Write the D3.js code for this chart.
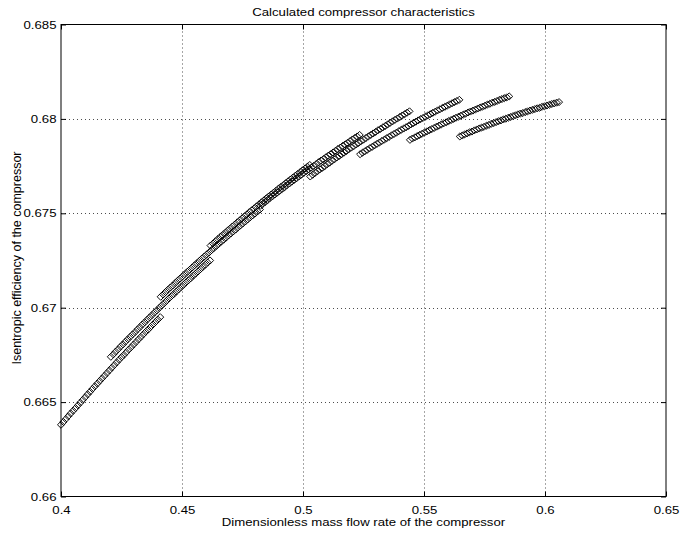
<!DOCTYPE html>
<html>
<head>
<meta charset="utf-8">
<script src="https://cdnjs.cloudflare.com/ajax/libs/d3/7.8.5/d3.min.js"></script>
<style>
  body { margin: 0; background: #fff; }
  text { font-family: "Liberation Sans", Arial, sans-serif; fill: #000; }
</style>
</head>
<body>
<script>
// compressor map: one run of diamonds per speed line

var xTicks = [0.4, 0.45, 0.5, 0.55, 0.6, 0.65];
var xTickLabels = ["0.4", "0.45", "0.5", "0.55", "0.6", "0.65"];
var yTicks = [0.66, 0.665, 0.67, 0.675, 0.68, 0.685];
var yTickLabels = ["0.66", "0.665", "0.67", "0.675", "0.68", "0.685"];

var flow1 = [0.400,0.401,0.402,0.403,0.404,0.405,0.406,0.407,0.408,0.409,0.410,0.411,0.412,0.413,0.414,0.415,0.416,0.417,0.418,0.419,0.420,0.421,0.422,0.423,0.424,0.425,0.426,0.427,0.428,0.429,0.430,0.431,0.432,0.433,0.434,0.435,0.436,0.437,0.438,0.439,0.440,0.441];
var eff1 = [0.66380,0.66395,0.66410,0.66425,0.66440,0.66454,0.66468,0.66483,0.66497,0.66512,0.66526,0.66541,0.66555,0.66570,0.66584,0.66598,0.66612,0.66626,0.66640,0.66654,0.66668,0.66682,0.66696,0.66710,0.66724,0.66738,0.66750,0.66764,0.66778,0.66791,0.66805,0.66818,0.66832,0.66845,0.66859,0.66872,0.66884,0.66898,0.66911,0.66924,0.66937,0.66950];

var flow2 = [0.4206,0.4216,0.4226,0.4236,0.4246,0.4256,0.4266,0.4276,0.4286,0.4296,0.4306,0.4316,0.4326,0.4336,0.4346,0.4356,0.4366,0.4376,0.4386,0.4396,0.4406,0.4416,0.4426,0.4436,0.4446,0.4456,0.4466,0.4476,0.4486,0.4496,0.4506,0.4516,0.4526,0.4536,0.4546,0.4556,0.4566,0.4576,0.4586,0.4596,0.4606,0.4616];
var eff2 = [0.66740,0.66753,0.66767,0.66780,0.66794,0.66806,0.66820,0.66833,0.66846,0.66859,0.66871,0.66885,0.66897,0.66911,0.66923,0.66936,0.66949,0.66961,0.66974,0.66986,0.66999,0.67011,0.67024,0.67036,0.67049,0.67061,0.67072,0.67085,0.67097,0.67109,0.67121,0.67133,0.67145,0.67156,0.67169,0.67180,0.67192,0.67204,0.67216,0.67227,0.67239,0.67250];

var flow3 = [0.4412,0.4422,0.4432,0.4442,0.4452,0.4462,0.4472,0.4482,0.4492,0.4502,0.4512,0.4522,0.4532,0.4542,0.4552,0.4562,0.4572,0.4582,0.4592,0.4602,0.4612,0.4622,0.4632,0.4642,0.4652,0.4662,0.4672,0.4682,0.4692,0.4702,0.4712,0.4722,0.4732,0.4742,0.4752,0.4762,0.4772,0.4782,0.4792,0.4802,0.4812,0.4822];
var eff3 = [0.67058,0.67070,0.67083,0.67095,0.67107,0.67118,0.67131,0.67143,0.67154,0.67166,0.67178,0.67190,0.67201,0.67213,0.67225,0.67236,0.67248,0.67260,0.67271,0.67282,0.67293,0.67305,0.67316,0.67327,0.67338,0.67350,0.67360,0.67371,0.67383,0.67393,0.67404,0.67414,0.67426,0.67436,0.67447,0.67457,0.67468,0.67479,0.67489,0.67499,0.67510,0.67520];

var flow4 = [0.4618,0.4628,0.4638,0.4648,0.4658,0.4668,0.4678,0.4688,0.4698,0.4708,0.4718,0.4728,0.4738,0.4748,0.4758,0.4768,0.4778,0.4788,0.4798,0.4808,0.4818,0.4828,0.4838,0.4848,0.4858,0.4868,0.4878,0.4888,0.4898,0.4908,0.4918,0.4928,0.4938,0.4948,0.4958,0.4968,0.4978,0.4988,0.4998,0.5008,0.5018,0.5028];
var eff4 = [0.67329,0.67340,0.67352,0.67363,0.67375,0.67385,0.67396,0.67408,0.67418,0.67430,0.67440,0.67452,0.67462,0.67473,0.67484,0.67494,0.67506,0.67516,0.67526,0.67537,0.67547,0.67558,0.67568,0.67579,0.67589,0.67599,0.67609,0.67619,0.67630,0.67639,0.67649,0.67659,0.67669,0.67679,0.67689,0.67699,0.67708,0.67718,0.67728,0.67737,0.67747,0.67756];

var flow5 = [0.4824,0.4834,0.4844,0.4854,0.4864,0.4874,0.4884,0.4894,0.4904,0.4914,0.4924,0.4934,0.4944,0.4954,0.4964,0.4974,0.4984,0.4994,0.5004,0.5014,0.5024,0.5034,0.5044,0.5054,0.5064,0.5074,0.5084,0.5094,0.5104,0.5114,0.5124,0.5134,0.5144,0.5154,0.5164,0.5174,0.5184,0.5194,0.5204,0.5214,0.5224,0.5234];
var eff5 = [0.67540,0.67550,0.67560,0.67570,0.67581,0.67590,0.67600,0.67610,0.67619,0.67629,0.67638,0.67649,0.67658,0.67668,0.67677,0.67686,0.67696,0.67705,0.67715,0.67724,0.67733,0.67742,0.67751,0.67760,0.67770,0.67779,0.67787,0.67796,0.67805,0.67813,0.67822,0.67831,0.67840,0.67848,0.67857,0.67865,0.67873,0.67882,0.67891,0.67899,0.67907,0.67915];

var flow6 = [0.5030,0.5040,0.5050,0.5060,0.5070,0.5080,0.5090,0.5100,0.5110,0.5120,0.5130,0.5140,0.5150,0.5160,0.5170,0.5180,0.5190,0.5200,0.5210,0.5220,0.5230,0.5240,0.5250,0.5260,0.5270,0.5280,0.5290,0.5300,0.5310,0.5320,0.5330,0.5340,0.5350,0.5360,0.5370,0.5380,0.5390,0.5400,0.5410,0.5420,0.5430,0.5440];
var eff6 = [0.67695,0.67704,0.67714,0.67723,0.67733,0.67741,0.67750,0.67760,0.67768,0.67778,0.67786,0.67796,0.67804,0.67813,0.67822,0.67830,0.67840,0.67848,0.67856,0.67865,0.67873,0.67882,0.67890,0.67899,0.67907,0.67915,0.67923,0.67931,0.67940,0.67947,0.67955,0.67963,0.67971,0.67979,0.67987,0.67995,0.68002,0.68010,0.68018,0.68025,0.68033,0.68040];

var flow7 = [0.5236,0.5246,0.5256,0.5266,0.5276,0.5286,0.5296,0.5306,0.5316,0.5326,0.5336,0.5346,0.5356,0.5366,0.5376,0.5386,0.5396,0.5406,0.5416,0.5426,0.5436,0.5446,0.5456,0.5466,0.5476,0.5486,0.5496,0.5506,0.5516,0.5526,0.5536,0.5546,0.5556,0.5566,0.5576,0.5586,0.5596,0.5606,0.5616,0.5626,0.5636,0.5646];
var eff7 = [0.67813,0.67821,0.67829,0.67837,0.67845,0.67852,0.67860,0.67868,0.67875,0.67883,0.67890,0.67898,0.67905,0.67913,0.67920,0.67927,0.67935,0.67942,0.67949,0.67956,0.67963,0.67971,0.67978,0.67985,0.67992,0.67999,0.68005,0.68012,0.68019,0.68025,0.68032,0.68038,0.68045,0.68051,0.68058,0.68064,0.68070,0.68077,0.68083,0.68089,0.68095,0.68101];

var flow8 = [0.5442,0.5452,0.5462,0.5472,0.5482,0.5492,0.5502,0.5512,0.5522,0.5532,0.5542,0.5552,0.5562,0.5572,0.5582,0.5592,0.5602,0.5612,0.5622,0.5632,0.5642,0.5652,0.5662,0.5672,0.5682,0.5692,0.5702,0.5712,0.5722,0.5732,0.5742,0.5752,0.5762,0.5772,0.5782,0.5792,0.5802,0.5812,0.5822,0.5832,0.5842,0.5852];
var eff8 = [0.67889,0.67896,0.67902,0.67909,0.67915,0.67921,0.67928,0.67934,0.67940,0.67946,0.67952,0.67959,0.67964,0.67971,0.67977,0.67982,0.67989,0.67994,0.68000,0.68006,0.68011,0.68017,0.68022,0.68028,0.68034,0.68039,0.68044,0.68049,0.68055,0.68060,0.68065,0.68070,0.68076,0.68080,0.68086,0.68090,0.68095,0.68101,0.68105,0.68110,0.68114,0.68119];

var flow9 = [0.5648,0.5658,0.5668,0.5678,0.5688,0.5698,0.5708,0.5718,0.5728,0.5738,0.5748,0.5758,0.5768,0.5778,0.5788,0.5798,0.5808,0.5818,0.5828,0.5838,0.5848,0.5858,0.5868,0.5878,0.5888,0.5898,0.5908,0.5918,0.5928,0.5938,0.5948,0.5958,0.5968,0.5978,0.5988,0.5998,0.6008,0.6018,0.6028,0.6038,0.6048,0.6058];
var eff9 = [0.67907,0.67912,0.67918,0.67923,0.67929,0.67933,0.67939,0.67944,0.67949,0.67954,0.67958,0.67964,0.67968,0.67974,0.67978,0.67983,0.67988,0.67992,0.67997,0.68001,0.68006,0.68010,0.68015,0.68019,0.68024,0.68028,0.68031,0.68036,0.68040,0.68044,0.68048,0.68052,0.68056,0.68059,0.68064,0.68067,0.68071,0.68075,0.68079,0.68082,0.68086,0.68089];

var runs = [
  [flow1, eff1], [flow2, eff2], [flow3, eff3], [flow4, eff4], [flow5, eff5],
  [flow6, eff6], [flow7, eff7], [flow8, eff8], [flow9, eff9]
];

var width = 680;
var height = 540;
// note: "top" is taken by window.top, so plot edges get their own names
var plotLeft = 61, plotRight = 666, plotTop = 24.5, plotBottom = 496.5;
var stretch = 1.2; // the reference glyphs are wider than they are tall

var svg = d3.select("body").append("svg")
    .attr("width", width)
    .attr("height", height);

var x = d3.scaleLinear().domain([0.4, 0.65]).range([plotLeft, plotRight]);
var y = d3.scaleLinear().domain([0.66, 0.685]).range([plotBottom, plotTop]);

// dotted grid
var grid = svg.append("g")
    .attr("stroke", "#000")
    .attr("stroke-width", 0.7)
    .attr("stroke-dasharray", "1,3");

grid.selectAll("line.gx")
    .data(xTicks.slice(1, -1))
    .enter()
    .append("line")
    .attr("class", "gx")
    .attr("x1", function(d) { return Math.round(x(d)) + 0.5; })
    .attr("x2", function(d) { return Math.round(x(d)) + 0.5; })
    .attr("y1", y.range()[0])
    .attr("y2", y.range()[1]);

grid.selectAll("line.gy")
    .data(yTicks.slice(1, -1))
    .enter()
    .append("line")
    .attr("class", "gy")
    .attr("y1", function(d) { return Math.round(y(d)) + 0.5; })
    .attr("y2", function(d) { return Math.round(y(d)) + 0.5; })
    .attr("x1", x.range()[0])
    .attr("x2", x.range()[1]);

// diamonds
var diamond = d3.symbol().type(d3.symbolSquare).size(25);

runs.forEach(function(run) {
  var pts = run[0].map(function(f, i) { return [f, run[1][i]]; });
  svg.append("g")
    .selectAll("path")
    .data(pts)
    .enter()
    .append("path")
    .attr("d", diamond)
    .attr("transform", function(d) {
      return "translate(" + x(d[0]) + "," + y(d[1]) + ") rotate(45)";
    })
    .attr("fill", "none")
    .attr("stroke", "#000")
    .attr("stroke-width", 0.9);
});

// axes, ticks pointing inward
var xAxis = d3.axisBottom(x)
    .tickValues(xTicks)
    .tickFormat(function(d, i) { return xTickLabels[i]; })
    .tickSizeInner(-5)
    .tickSizeOuter(0)
    .tickPadding(9.5);

var yAxis = d3.axisLeft(y)
    .tickValues(yTicks)
    .tickFormat(function(d, i) { return yTickLabels[i]; })
    .tickSizeInner(-5)
    .tickSizeOuter(0)
    .tickPadding(4.5 / stretch);

var gx = svg.append("g").attr("transform", "translate(0," + plotBottom + ")").call(xAxis);
var gy = svg.append("g").attr("transform", "translate(" + plotLeft + ",0)").call(yAxis);
var gt = svg.append("g").attr("transform", "translate(0," + plotTop + ")")
    .call(d3.axisTop(x).tickValues(xTicks).tickFormat("").tickSizeInner(-5).tickSizeOuter(0));
var gr = svg.append("g").attr("transform", "translate(" + plotRight + ",0)")
    .call(d3.axisRight(y).tickValues(yTicks).tickFormat("").tickSizeInner(-5).tickSizeOuter(0));

[gx, gy, gt, gr].forEach(function(g) {
  g.select(".domain").remove();
  g.selectAll("line").attr("stroke", "#000");
  g.selectAll("text")
    .attr("font-family", "Liberation Sans, Arial, sans-serif")
    .attr("font-size", 11)
    .attr("fill", "#000")
    .attr("transform", "scale(" + stretch + ",1)");
});

svg.append("rect")
    .attr("x", plotLeft)
    .attr("y", plotTop)
    .attr("width", plotRight - plotLeft)
    .attr("height", plotBottom - plotTop)
    .attr("fill", "none")
    .attr("stroke", "#000")
    .attr("stroke-width", 1);

// labels
svg.append("text")
    .attr("transform", "translate(" + (plotLeft + plotRight) / 2 + ",15.5) scale(" + stretch + ",1)")
    .attr("text-anchor", "middle")
    .attr("font-size", 11)
    .text("Calculated compressor characteristics");

svg.append("text")
    .attr("transform", "translate(" + (plotLeft + plotRight) / 2 + ",526) scale(" + stretch + ",1)")
    .attr("text-anchor", "middle")
    .attr("font-size", 11)
    .text("Dimensionless mass flow rate of the compressor");

svg.append("text")
    .attr("transform", "translate(21,258) rotate(-90)")
    .attr("text-anchor", "middle")
    .attr("font-size", 12.5)
    .text("Isentropic efficiency of the compressor");
</script>
</body>
</html>
